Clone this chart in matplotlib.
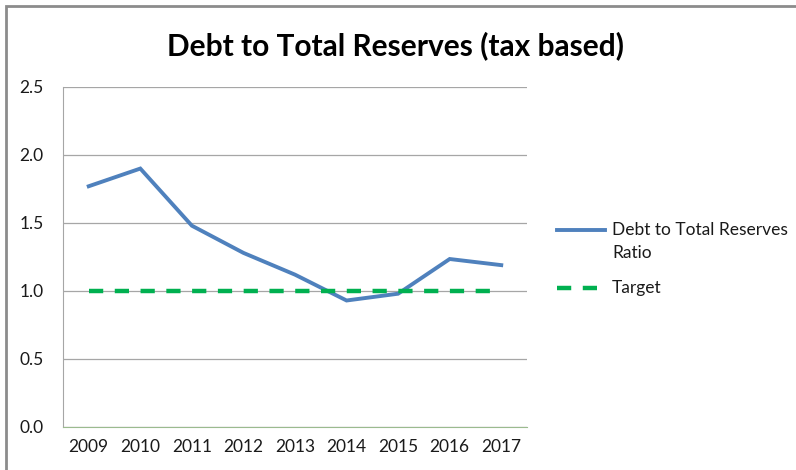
import matplotlib
matplotlib.use("Agg")
import matplotlib.pyplot as plt
from matplotlib.lines import Line2D
from matplotlib.patches import Rectangle

years = ["2009", "2010", "2011", "2012", "2013", "2014", "2015", "2016", "2017"]
ratio = [1.77, 1.90, 1.48, 1.28, 1.12, 0.93, 0.98, 1.235, 1.19]
target = [1.0, 1.0, 1.0, 1.0, 1.0, 1.0, 1.0, 1.0, 1.0]
yticks = [0.0, 0.5, 1.0, 1.5, 2.0, 2.5]

blue = "#4F81BD"
green = "#00B050"

plt.rcParams["font.family"] = ["Lato", "DejaVu Sans"]

fig = plt.figure(figsize=(7.96, 4.70), dpi=100)
ax = fig.add_axes([0.0791, 0.0915, 0.583, 0.7235])

x = list(range(len(years)))
ax.plot(x, ratio, color=blue, lw=2.8, solid_joinstyle="miter")
ax.plot(x, target, color=green, lw=3.2, ls=(0, (3.2, 2.6)))

ax.set_xlim(-0.5, len(years) - 0.5)
ax.set_ylim(0, 2.5)
ax.set_xticks(x)
ax.set_xticklabels(years)
ax.set_yticks(yticks)
ax.set_yticklabels([f"{v:.1f}" for v in yticks])
ax.yaxis.grid(True, color="#a6a6a6", lw=0.9)
ax.set_axisbelow(True)
ax.tick_params(axis="both", length=0, labelsize=12.5, colors="#1a1a1a")
ax.tick_params(axis="x", pad=9)
ax.tick_params(axis="y", pad=14)
for s in ["top", "right"]:
    ax.spines[s].set_visible(False)
ax.spines["left"].set_color("#a6a6a6")
ax.spines["bottom"].set_color("#9bbb8f")

fig.text(0.497, 0.902, "Debt to Total Reserves (tax based)", ha="center", va="center",
         fontsize=21.5, fontweight="bold", color="black")

# legend, laid out like the spreadsheet one (key level with first text line)
def fy(py):
    return (470 - py) / 470

x0, x1, xt = 557 / 796, 605 / 796, 612 / 796
fig.lines.append(Line2D([x0, x1], [fy(230), fy(230)], transform=fig.transFigure,
                        color=blue, lw=2.8))
fig.text(xt, fy(230), "Debt to Total Reserves", va="center", fontsize=12.5, color="#1a1a1a")
fig.text(xt, fy(253), "Ratio", va="center", fontsize=12.5, color="#1a1a1a")
fig.lines.append(Line2D([x0, x1], [fy(288), fy(288)], transform=fig.transFigure,
                        color=green, lw=3.2, ls=(0, (3.2, 2.6))))
fig.text(xt, fy(288), "Target", va="center", fontsize=12.5, color="#1a1a1a")

fig.patches.append(Rectangle((0.008, -0.01), 1.0, 1.0 - 0.002, transform=fig.transFigure,
                             fill=False, ec="#8c8c8c", lw=2.0))

fig.savefig("out.png", dpi=100)
